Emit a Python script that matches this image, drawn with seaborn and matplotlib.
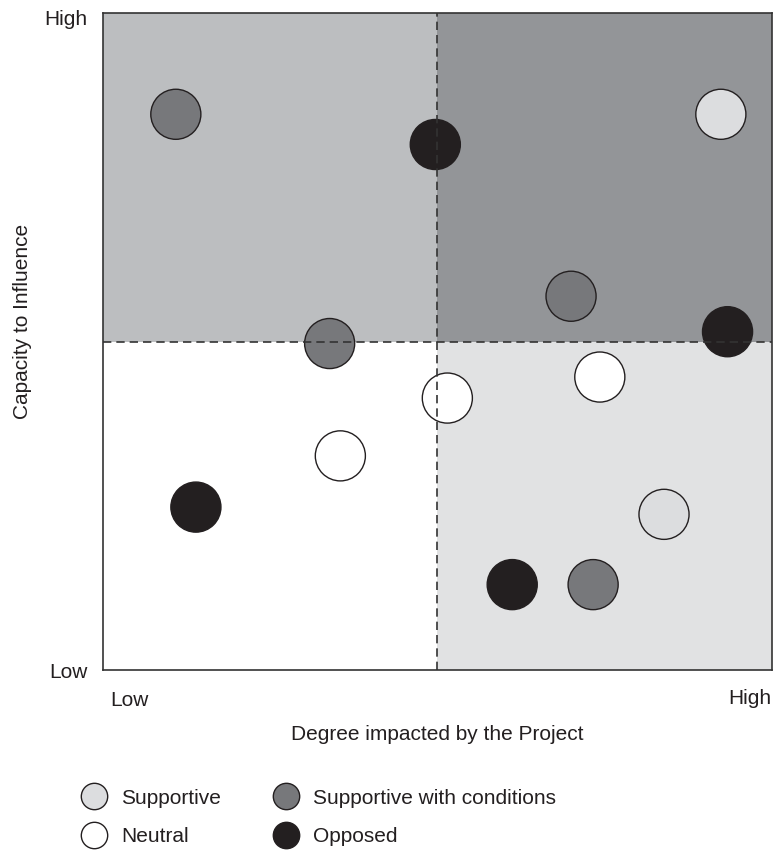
import pandas as pd
import matplotlib.pyplot as plt
import matplotlib.transforms as mtransforms
import seaborn as sns
from matplotlib.lines import Line2D

# Dados dos stakeholders (0 = baixo, 1 = alto)
impacto = [0.109, 0.497, 0.924, 0.700, 0.934, 0.339, 0.743, 0.515, 0.355, 0.139, 0.839, 0.612, 0.733]
influencia = [0.846, 0.800, 0.846, 0.569, 0.515, 0.497, 0.446, 0.414, 0.326, 0.248, 0.237, 0.130, 0.130]
posicao = ['Supportive with conditions', 'Opposed', 'Supportive', 'Supportive with conditions',
           'Opposed', 'Supportive with conditions', 'Neutral', 'Neutral', 'Neutral',
           'Opposed', 'Supportive', 'Opposed', 'Supportive with conditions']

categorias = ['Supportive', 'Neutral', 'Supportive with conditions', 'Opposed']
cores = {'Supportive': '#dcdddf', 'Neutral': '#ffffff',
         'Supportive with conditions': '#77787b', 'Opposed': '#231f20'}

dados = pd.DataFrame({'Impacto': impacto, 'Influencia': influencia, 'Posicao': posicao})

sns.set_style('white')
plt.rcParams['font.family'] = ['Liberation Sans', 'DejaVu Sans']
fs = 15

fig = plt.figure(figsize=(7.74, 8.52), dpi=100)
ax = fig.add_axes([0.133, 0.2136, 0.864, 0.771])

# Quadrantes
ax.axvspan(0, 0.5, ymin=0.5, ymax=1, color='#bcbec0', lw=0, zorder=0)
ax.axvspan(0.5, 1, ymin=0.5, ymax=1, color='#939598', lw=0, zorder=0)
ax.axvspan(0.5, 1, ymin=0, ymax=0.5, color='#e1e2e3', lw=0, zorder=0)

sns.scatterplot(data=dados, x='Impacto', y='Influencia', hue='Posicao', palette=cores,
                s=1300, edgecolor='#231f20', linewidth=1, legend=False, ax=ax, zorder=2)

ax.axvline(0.5, color='#333333', ls=(0, (5, 3)), lw=1.2, zorder=3)
ax.axhline(0.5, color='#333333', ls=(0, (5, 3)), lw=1.2, zorder=3)

ax.set_xlim(0, 1)
ax.set_ylim(0, 1)
for s in ax.spines.values():
    s.set_color('#333333')
    s.set_linewidth(1.2)

ax.set_xticks([0, 1])
ax.set_xticklabels(['Low', 'High'], fontsize=fs, color='#231f20')
ax.set_yticks([0, 1])
ax.set_yticklabels(['Low', 'High'], fontsize=fs, color='#231f20')
ax.tick_params(axis='x', length=0, pad=14)
ax.tick_params(axis='y', length=0, pad=11)
xl = ax.get_xticklabels()
xl[0].set_ha('left')
xl[1].set_ha('right')
desloc = mtransforms.ScaledTranslation(7 / 100, -2 / 100, fig.dpi_scale_trans)
xl[0].set_transform(xl[0].get_transform() + desloc)
yl = ax.get_yticklabels()
desloc_y = mtransforms.ScaledTranslation(0, -4 / 100, fig.dpi_scale_trans)
yl[1].set_transform(yl[1].get_transform() + desloc_y)

ax.set_xlabel('Degree impacted by the Project', fontsize=fs, color='#231f20')
ax.xaxis.set_label_coords(0.5, -0.084)
ax.set_ylabel('Capacity to Influence', fontsize=fs, color='#231f20')
ax.yaxis.set_label_coords(-0.106, 0.53)

handles = [Line2D([0], [0], marker='o', ls='', markersize=19, markerfacecolor=cores[c],
                  markeredgecolor='#231f20', markeredgewidth=1) for c in categorias]
leg = fig.legend(handles, categorias, ncol=2, loc='upper left', bbox_to_anchor=(0.084, 0.084),
                 frameon=False, fontsize=fs, handletextpad=0.3, columnspacing=2.1,
                 labelspacing=0.94, borderaxespad=0)
for t in leg.get_texts():
    t.set_color('#231f20')

plt.savefig('out.png', dpi=100)
